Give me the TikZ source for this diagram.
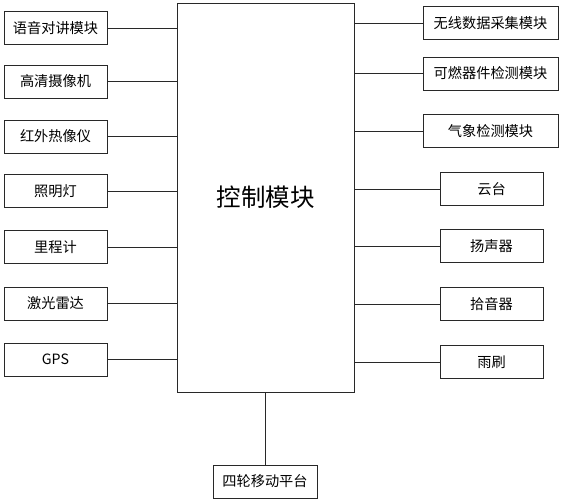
\documentclass[tikz,border=0pt]{standalone}
\usepackage{fontspec}
\setmainfont{Noto Sans CJK SC}
\usepackage{tikz}
\usetikzlibrary{positioning}
\definecolor{linegray}{RGB}{40,40,40}

\begin{document}
\begin{tikzpicture}[x=1pt, y=-1pt,
  unitbox/.style={draw=linegray, line width=0.8pt, minimum height=33pt,
    inner sep=0pt, font=\fontsize{14.2}{16}\selectfont},
  wire/.style={draw=linegray, line width=0.8pt}]

\useasboundingbox (0,0) rectangle (562,500);

%% Control module
\node[unitbox, minimum width=177pt, minimum height=389pt,
  font=\fontsize{24.5}{28}\selectfont] (ctrl) at (265.5,197.5) {控制模块};

%% Left column
\foreach \y/\lab [count=\i] in {28/语音对讲模块, 81.5/高清摄像机, 136.5/红外热像仪,
    191/照明灯, 247/里程计, 303.5/激光雷达, 359.5/GPS}{
  \node[unitbox, minimum width=103pt] (left\i) at (55.5,\y) {\lab};
  \draw[wire] (left\i.east) -- (left\i.east -| ctrl.west);
}

%% Right column, wide boxes
\foreach \y/\lab [count=\i] in {23/无线数据采集模块, 73.5/可燃器件检测模块, 131/气象检测模块}{
  \node[unitbox, minimum width=135pt] (rwide\i) at (490.5,\y) {\lab};
  \draw[wire] (rwide\i.west) -- (rwide\i.west -| ctrl.east);
}

%% Right column, narrow boxes
\foreach \y/\lab [count=\i] in {189/云台, 246/扬声器, 304/拾音器, 362/雨刷}{
  \node[unitbox, minimum width=103pt] (rnarrow\i) at (491.5,\y) {\lab};
  \draw[wire] (rnarrow\i.west) -- (rnarrow\i.west -| ctrl.east);
}

%% Platform
\node[unitbox, minimum width=104pt] (base) at (265,481.5) {四轮移动平台};
\draw[wire] (base.north) -- (base.north |- ctrl.south);

\end{tikzpicture}
\end{document}
